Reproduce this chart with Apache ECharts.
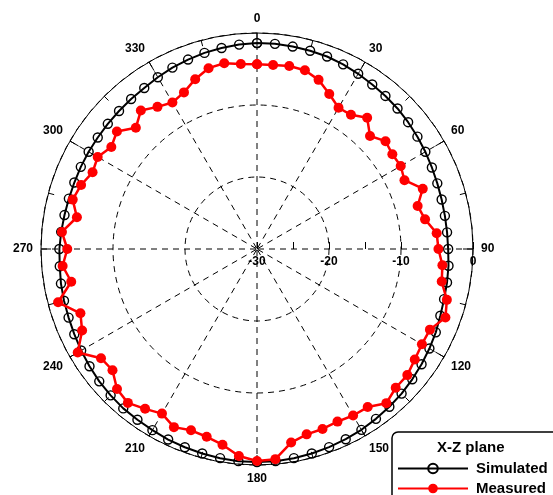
<!DOCTYPE html>
<html><head><meta charset="utf-8">
<script src="https://cdn.jsdelivr.net/npm/echarts@6/dist/echarts.min.js"></script>
<style>html,body{margin:0;padding:0;background:#fff}#c{width:553px;height:495px}</style>
</head><body><div id="c"></div>
<script>
const angles = [0,5,10,15,20,25,30,35,40,45,50,55,60,65,70,75,80,85,90,95,100,105,110,115,120,125,130,135,140,145,150,155,160,165,170,175,180,185,190,195,200,205,210,215,220,225,230,235,240,245,250,255,260,265,270,275,280,285,290,295,300,305,310,315,320,325,330,335,340,345,350,355];
const simulated = [-1.4,-1.4,-1.45,-1.5,-1.55,-1.7,-1.9,-2.1,
  -2.25,-2.4,-2.6,-2.8,-3.0,-3.2,-3.35,-3.45,
  -3.5,-3.5,-3.45,-3.3,-3.2,-3.1,-2.9,-2.6,
  -2.35,-2.1,-1.85,-1.6,-1.4,-1.2,-1.0,-0.85,
  -0.72,-0.6,-0.5,-0.42,-0.4,-0.42,-0.5,-0.6,
  -0.7,-0.8,-0.95,-1.05,-1.1,-1.25,-1.4,-1.6,
  -1.8,-2.0,-2.15,-2.25,-2.35,-2.5,-2.55,-2.7,
  -2.85,-2.95,-3.0,-3.0,-3.0,-3.0,-2.95,-2.9,
  -2.8,-2.7,-2.45,-2.2,-2.0,-1.8,-1.65,-1.5];
const measured = [-4.35,-4.35,-4.2,-4.3,-5.0,-6.25,-7.35,-7.25,
  -6.2,-7.8,-6.7,-7.05,-6.95,-7.4,-5.5,-6.9,
  -6.3,-4.95,-4.8,-4.15,-3.95,-2.7,-2.15,-3.5,
  -3.55,-3.25,-2.75,-2.75,-2.05,-3.2,-3.3,-3.55,
  -3.4,-3.35,-2.7,-0.7,-0.55,-1.15,-2.4,-3.0,
  -3.2,-2.7,-3.6,-2.9,-2.1,-2.5,-3.8,-3.55,
  -1.25,-3.2,-3.9,-1.4,-3.8,-2.9,-3.65,-2.8,
  -4.6,-3.5,-4.0,-4.8,-4.45,-5.3,-4.6,-6.2,
  -4.9,-5.9,-6.5,-6.0,-4.9,-4.0,-3.8,-4.2];
const radiusMin = -30, radiusMax = 0;
const seriesNames = ['Simulated', 'Measured'];
const legendTitle = 'X-Z plane';

function closed(vals){
  const d = angles.map((a,i)=>[vals[i], a]);
  d.push([vals[0], 360]);
  return d;
}
const FONT = 'Liberation Sans, Arial, sans-serif';
const chart = echarts.init(document.getElementById('c'), null, {renderer:'canvas'});
const dash = {color:'#000', width:1, type:[6,5]};
chart.setOption({
  animation:false,
  backgroundColor:'#fff',
  title:{text:legendTitle, left:437, top:440, padding:0, textStyle:{fontFamily:FONT, fontWeight:'bold', fontSize:15, color:'#000'}},
  legend:{
    data:seriesNames, orient:'vertical', left:392, top:432, width:200, height:110,
    padding:[29,20,10,5], itemGap:5, itemWidth:70, itemHeight:12,
    borderColor:'#000', borderWidth:1.5, borderRadius:6,
    textStyle:{fontFamily:FONT, fontWeight:'bold', fontSize:15, color:'#000', padding:[0,0,0,3]}
  },
  polar:[
    {center:[257,249], radius:216},
    {center:[257,249], radius:216}
  ],
  angleAxis:[
    {polarIndex:0, type:'value', min:0, max:360, interval:30, startAngle:90, clockwise:true,
     axisLine:{show:true, lineStyle:{color:'#000', width:1}},
     axisTick:{show:true, inside:true, length:10, lineStyle:{color:'#000', width:1}},
     minorTick:{show:true, splitNumber:2, length:6, lineStyle:{color:'#000', width:1}},
     axisLabel:{show:true, margin:8, align:'center', verticalAlign:'middle', color:'#000', fontFamily:FONT, fontWeight:'bold', fontSize:12},
     splitLine:{show:true, lineStyle:dash}},
    {polarIndex:1, type:'value', min:0, max:360, startAngle:0, clockwise:true, show:false}
  ],
  radiusAxis:[
    {polarIndex:0, type:'value', min:radiusMin, max:radiusMax, interval:10,
     axisLine:{show:false}, axisTick:{show:false}, axisLabel:{show:false},
     splitLine:{show:true, lineStyle:dash}},
    {polarIndex:1, type:'value', min:radiusMin, max:radiusMax, interval:10,
     axisLine:{show:false},
     axisTick:{show:true, length:7, lineStyle:{color:'#000'}},
     minorTick:{show:true, splitNumber:2, length:7, lineStyle:{color:'#000'}},
     axisLabel:{show:true, margin:-7, verticalAlign:'top', color:'#000', fontFamily:FONT, fontWeight:'bold', fontSize:12},
     splitLine:{show:false}}
  ],
  series:[
    {name:seriesNames[0], type:'line', coordinateSystem:'polar', polarIndex:0,
     data:closed(simulated), symbol:'circle', symbolSize:9,
     lineStyle:{color:'#000', width:2},
     itemStyle:{color:'rgba(255,255,255,0)', borderColor:'#000', borderWidth:1.4},
     z:3},
    {name:seriesNames[1], type:'line', coordinateSystem:'polar', polarIndex:0,
     data:closed(measured), symbol:'circle', symbolSize:10,
     lineStyle:{color:'#ff0000', width:2.5},
     itemStyle:{color:'#ff0000'},
     z:4}
  ]
});
</script></body></html>
